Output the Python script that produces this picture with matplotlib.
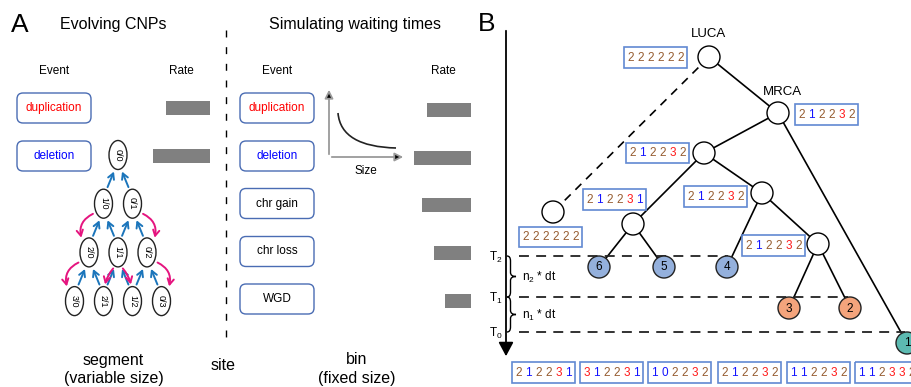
import matplotlib.pyplot as plt
from matplotlib.patches import FancyBboxPatch, Rectangle, Circle, Ellipse, FancyArrowPatch, PathPatch
from matplotlib.path import Path

plt.rcParams['font.family'] = ['Liberation Sans', 'DejaVu Sans']
plt.rcParams['mathtext.fontset'] = 'custom'
plt.rcParams['mathtext.rm'] = 'Liberation Sans'
plt.rcParams['mathtext.it'] = 'Liberation Sans:italic'

# events and rates (bar lengths in px)
events_a = ['duplication', 'deletion']
rates_a = [44, 57]
events_b = ['duplication', 'deletion', 'chr gain', 'chr loss', 'WGD']
rates_b = [44, 57, 49, 37, 26]
event_colors = {'duplication': 'red', 'deletion': 'blue'}

# copy number profiles on the tree
luca_cn = [2, 2, 2, 2, 2, 2]
mrca_cn = [2, 1, 2, 2, 3, 2]
node_a_cn = [2, 1, 2, 2, 3, 2]
node_b_cn = [2, 1, 2, 2, 3, 2]
node_c_cn = [2, 1, 2, 2, 3, 1]
node_d_cn = [2, 1, 2, 2, 3, 2]
dead_cn = [2, 2, 2, 2, 2, 2]
leaf_cn = [[2, 1, 2, 2, 3, 1], [3, 1, 2, 2, 3, 1], [1, 0, 2, 2, 3, 2],
           [2, 1, 2, 2, 3, 2], [1, 1, 2, 2, 3, 2], [1, 1, 2, 3, 3, 2]]
leaf_labels = ['6', '5', '4', '3', '2', '1']
leaf_colors = ['#94b0dc', '#94b0dc', '#94b0dc', '#f4a47c', '#f4a47c', '#5cbab1']
time_labels = ['T$_2$', 'T$_1$', 'T$_0$']
interval_labels = ['n$_2$ * dt', 'n$_1$ * dt']

BOXBLUE = '#4a6cb3'
CNBLUE = '#6189d2'


def cn_color(v):
    if v < 2:
        return '#1414ff'
    if v > 2:
        return '#ff1a1a'
    return '#965c30'


fig = plt.figure(figsize=(9.11, 3.87), dpi=100)
ax = fig.add_axes([0, 0, 1, 1])
ax.set_xlim(0, 911)
ax.set_ylim(387, 0)
ax.axis('off')


def cn_box(x, y, cn, w=63, h=21):
    ax.add_patch(Rectangle((x, y), w, h, fill=False, ec=CNBLUE, lw=1.2, zorder=4))
    for k, v in enumerate(cn):
        ax.text(x + w / 2 + (k - 2.5) * 10, y + h / 2 + 0.5, str(v), color=cn_color(v),
                ha='center', va='center', fontsize=8.5, zorder=5)


def event_box(x, yc, name):
    ax.add_patch(FancyBboxPatch((x, yc - 15), 74, 30, boxstyle='round,pad=0,rounding_size=6',
                                fc='white', ec=BOXBLUE, lw=1))
    ax.text(x + 37, yc, name, color=event_colors.get(name, 'black'),
            ha='center', va='center', fontsize=8.5)


# ---------------- panel A: evolving CNPs ----------------
ax.text(20, 25, 'A', fontsize=19, ha='center', va='center')
ax.text(113, 24, 'Evolving CNPs', fontsize=11.5, ha='center', va='center')
ax.text(54, 71, 'Event', fontsize=8.5, ha='center', va='center')
ax.text(181, 71, 'Rate', fontsize=8.5, ha='center', va='center')
ya = [108, 156]
for name, yc in zip(events_a, ya):
    event_box(17, yc, name)
ax.barh([y for y in ya], rates_a, left=[210 - w for w in rates_a], height=14, color='#808080')

# allele-specific state lattice
ells = {}
for r in range(4):
    for i in range(r + 1):
        x = 118 + (i - r / 2) * 29
        y = 155 + r * 48.7
        e = Ellipse((x, y), 18, 29, fc='white', ec='#222222', lw=1, zorder=3)
        ax.add_patch(e)
        ells[(r, i)] = (x, y, e)
        ax.text(x, y, f'{r - i}/{i}', rotation=-90, fontsize=6.5, ha='center', va='center', zorder=4)

for r in range(1, 4):
    for i in range(r + 1):
        xl, yl, el = ells[(r, i)]
        for j in (i - 1, i):
            if 0 <= j <= r - 1:
                xu, yu, eu = ells[(r - 1, j)]
                sx = 1 if xu > xl else -1
                ax.add_patch(FancyArrowPatch((xl + sx * 3, yl - 14), (xu - sx * 3, yu + 14),
                                             arrowstyle='->,head_length=0.45,head_width=0.25',
                                             mutation_scale=9, color='#1b75bb', lw=1.4, zorder=2))

MAG = '#e5147f'
outer = [((1, 0), (2, 0), -1), ((1, 1), (2, 2), 1), ((2, 0), (3, 0), -1), ((2, 2), (3, 3), 1)]
for a, b, s in outer:
    xu, yu, _ = ells[a]
    xl, yl, _ = ells[b]
    ax.add_patch(FancyArrowPatch((xu + s * 8, yu + 9), (xl + s * 7, yl - 12),
                                 connectionstyle=f'arc3,rad={-s * 0.45}',
                                 arrowstyle='->,head_length=0.45,head_width=0.25',
                                 mutation_scale=9, color=MAG, lw=1.4, zorder=2))
for b, s in (((3, 1), -1), ((3, 2), 1)):
    xu, yu, _ = ells[(2, 1)]
    xl, yl, _ = ells[b]
    ax.add_patch(FancyArrowPatch((xu + s * 3, yu + 14), (xl - s * 1, yl - 14),
                                 connectionstyle=f'arc3,rad={-s * 0.15}',
                                 arrowstyle='->,head_length=0.45,head_width=0.25',
                                 mutation_scale=9, color=MAG, lw=1.4, zorder=2))

ax.text(113, 360, 'segment', fontsize=11.5, ha='center', va='center')
ax.text(114, 378, '(variable size)', fontsize=11.5, ha='center', va='center')

# divider
ax.plot([226, 226], [30, 345], color='black', lw=1, dashes=(5, 7))
ax.text(223, 366, 'site', fontsize=11.5, ha='center', va='center')

# ---------------- simulating waiting times ----------------
ax.text(355, 24, 'Simulating waiting times', fontsize=11.5, ha='center', va='center')
ax.text(277, 71, 'Event', fontsize=8.5, ha='center', va='center')
ax.text(443, 71, 'Rate', fontsize=8.5, ha='center', va='center')
yb = [108, 156, 203.5, 251.5, 299]
for name, yc in zip(events_b, yb):
    event_box(240, yc, name)
ax.barh([y + 1.5 for y in yb], rates_b, left=[471 - w for w in rates_b], height=14, color='#808080')

# size sketch
for p0, p1 in (((329, 157), (329, 87)), ((329, 157), (406, 157))):
    ax.add_patch(FancyArrowPatch(p0, p1, arrowstyle='-|>,head_length=0.5,head_width=0.25',
                                 mutation_scale=10, ec='#9a9a9a', fc='black', lw=1.3))
curve = Path([(338, 113), (340, 136), (360, 147), (396, 148)],
             [Path.MOVETO, Path.CURVE4, Path.CURVE4, Path.CURVE4])
ax.add_patch(PathPatch(curve, fill=False, ec='#222222', lw=1.2))
ax.text(366, 171, 'Size', fontsize=8.5, ha='center', va='center')

ax.text(357, 360, 'bin', fontsize=11.5, ha='center', va='center')
ax.text(357, 379, '(fixed size)', fontsize=11.5, ha='center', va='center')

# ---------------- panel B: tree ----------------
ax.text(487, 24, 'B', fontsize=19, ha='center', va='center')
ax.add_patch(FancyArrowPatch((506, 28), (506, 359), arrowstyle='-|>,head_length=0.6,head_width=0.32',
                             mutation_scale=14, color='black', lw=1.3))

t_y = [256, 297, 332]
t_end = [728, 848, 905]
for lab, y, xe in zip(time_labels, t_y, t_end):
    ax.plot([519, xe], [y, y], color='#222222', lw=1.3, dashes=(5.5, 4))
    ax.text(496, y + 1, lab, fontsize=8.5, ha='center', va='center')


def brace(y0, y1, x0=507, x1=516):
    ym = (y0 + y1) / 2
    xb = (x0 + x1) / 2 - 1
    verts = [(x0, y0), (xb, y0), (xb, y0 + 5), (xb, ym - 4), (xb, ym), (x1, ym),
             (xb, ym), (xb, ym + 4), (xb, y1 - 5), (xb, y1), (x0, y1)]
    codes = [Path.MOVETO, Path.CURVE3, Path.CURVE3, Path.LINETO, Path.CURVE3, Path.CURVE3,
             Path.CURVE3, Path.CURVE3, Path.LINETO, Path.CURVE3, Path.CURVE3]
    ax.add_patch(PathPatch(Path(verts, codes), fill=False, ec='black', lw=1))


for (y0, y1), lab in zip(((t_y[0], t_y[1]), (t_y[1], t_y[2])), interval_labels):
    brace(y0, y1)
    ax.text(522, (y0 + y1) / 2 + 1, lab, fontsize=8.5, ha='left', va='center')

nodes = {'luca': (709, 57), 'mrca': (778, 113), 'a': (704, 153), 'b': (762, 193),
         'c': (633, 224), 'd': (818, 244), 'dead': (553, 212)}
leaf_pos = [(599, t_y[0] + 11), (664, t_y[0] + 11), (727, t_y[0] + 11),
            (789, t_y[1] + 11), (850, t_y[1] + 11), (907, t_y[2] + 11)]
leaves = dict(zip(leaf_labels, leaf_pos))
allpos = {**nodes, **leaves}
edges = [('luca', 'mrca'), ('mrca', 'a'), ('mrca', '1'), ('a', 'c'), ('a', 'b'), ('c', '6'),
         ('c', '5'), ('b', '4'), ('b', 'd'), ('d', '3'), ('d', '2')]
for u, v in edges:
    (x0, y0), (x1, y1) = allpos[u], allpos[v]
    ax.plot([x0, x1], [y0, y1], color='black', lw=1.2, zorder=1)
(x0, y0), (x1, y1) = nodes['luca'], nodes['dead']
ax.plot([x0, x1], [y0, y1], color='black', lw=1.2, dashes=(5, 4), zorder=1)

for k, (x, y) in nodes.items():
    ax.add_patch(Circle((x, y), 11, fc='white', ec='black', lw=1, zorder=3))
for lab, (x, y), c in zip(leaf_labels, leaf_pos, leaf_colors):
    ax.add_patch(Circle((x, y), 11, fc=c, ec='#222222', lw=1, zorder=3))
    ax.text(x, y + 0.5, lab, fontsize=8.5, ha='center', va='center', zorder=4)

ax.text(709, 34, 'LUCA', fontsize=9.5, ha='center', va='center')
ax.text(782, 92, 'MRCA', fontsize=9.5, ha='center', va='center')

cn_box(624, 47, luca_cn)
cn_box(795, 104, mrca_cn)
cn_box(626, 143, node_a_cn, h=20)
cn_box(684, 186, node_b_cn)
cn_box(583, 189, node_c_cn)
cn_box(742, 235, node_d_cn)
cn_box(519, 227, dead_cn, h=20)
for x0, cn in zip([512, 580, 648, 718, 787, 855], leaf_cn):
    cn_box(x0, 362, cn)

fig.savefig('out.png', dpi=100)
